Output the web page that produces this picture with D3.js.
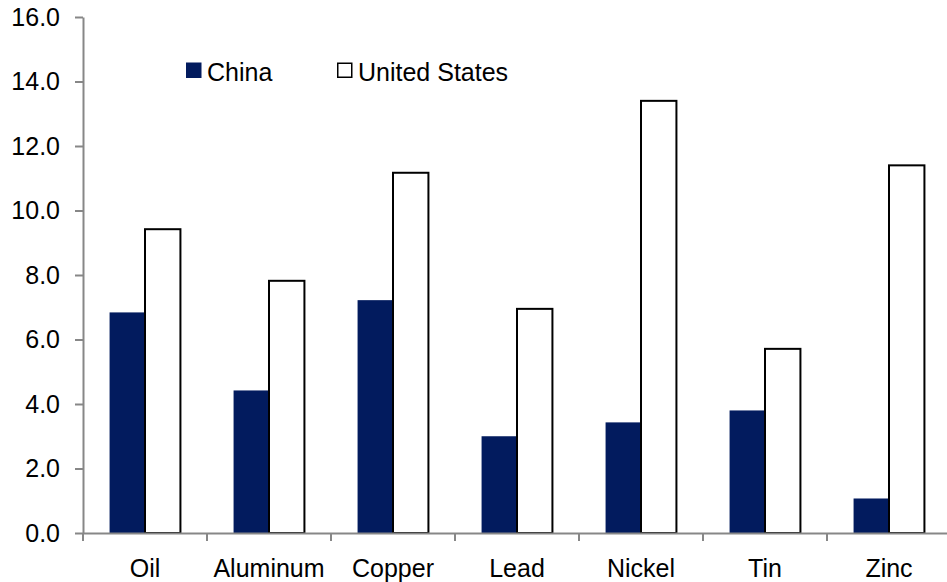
<!DOCTYPE html>
<html>
<head>
<meta charset="utf-8">
<script src="https://d3js.org/d3.v7.min.js"></script>
<style>
  html, body { margin: 0; padding: 0; background: #fff; }
  svg { display: block; }
  text { font-family: Arial, "Liberation Sans", sans-serif; fill: #000; }
</style>
</head>
<body>
<svg id="chart" width="947" height="582"></svg>
<script>
const categories = ["Oil", "Aluminum", "Copper", "Lead", "Nickel", "Tin", "Zinc"];
const seriesNames = ["China", "United States"];
const chinaValues = [6.84, 4.42, 7.22, 3.00, 3.43, 3.80, 1.07];
const usValues = [9.42, 7.82, 11.17, 6.95, 13.40, 5.71, 11.40];
const yTicks = [0, 2, 4, 6, 8, 10, 12, 14, 16];
const seriesColors = ["#021B5E", "#FFFFFF"];

(function () {
const svg = d3.select("#chart");
const axisColor = "#878787";
const fontSize = 25;

const plotLeft = 83, plotRight = 951, plotTop = 17, plotBottom = 533;

const x0 = d3.scaleBand().domain(categories).range([plotLeft, plotRight]).paddingInner(0).paddingOuter(0);
const x1 = d3.scaleBand().domain(seriesNames).range([0, x0.bandwidth()]).paddingInner(0).paddingOuter(0.75);
const y = d3.scaleLinear().domain([0, 16]).range([plotBottom, plotTop]);

const rows = categories.map((c, i) => ({ cat: c, vals: [chinaValues[i], usValues[i]] }));

// Bars
const groups = svg.append("g").selectAll("g").data(rows).join("g")
  .attr("transform", d => `translate(${x0(d.cat)},0)`);
groups.selectAll("rect").data(d => d.vals.map((v, j) => ({ v, s: seriesNames[j], j })))
  .join("rect")
  .attr("x", d => x1(d.s))
  .attr("y", d => y(d.v))
  .attr("width", x1.bandwidth())
  .attr("height", d => y(0) - y(d.v))
  .attr("fill", d => seriesColors[d.j])
  .attr("stroke", d => d.j === 1 ? "#000" : "none")
  .attr("stroke-width", d => d.j === 1 ? 2 : 0);

// Y axis
const yAxis = d3.axisLeft(y).tickValues(yTicks).tickFormat(d3.format(".1f")).tickSize(8).tickSizeOuter(0).tickPadding(15);
const gy = svg.append("g").attr("transform", `translate(${plotLeft},0)`).call(yAxis);
gy.select(".domain").attr("stroke", axisColor).attr("stroke-width", 2);
gy.selectAll(".tick line").attr("stroke", axisColor).attr("stroke-width", 2);
gy.selectAll(".tick text").attr("font-size", fontSize).attr("font-family", "Arial, 'Liberation Sans', sans-serif").attr("fill", "#000");

// X axis (labels centered in categories, ticks at boundaries)
const xAxis = d3.axisBottom(x0).tickSize(0).tickSizeOuter(0).tickPadding(0);
const gx = svg.append("g").attr("transform", `translate(0,${plotBottom})`).call(xAxis);
gx.select(".domain").attr("stroke", axisColor).attr("stroke-width", 2);
gx.selectAll(".tick text").attr("font-size", fontSize).attr("font-family", "Arial, 'Liberation Sans', sans-serif")
  .attr("fill", "#000").attr("y", 44).attr("dy", 0);
const boundaries = categories.map(c => x0(c)).concat([x0.range()[1]]);
gx.selectAll(".boundary").data(boundaries).join("line")
  .attr("class", "boundary")
  .attr("x1", d => d).attr("x2", d => d)
  .attr("y1", 0).attr("y2", 8)
  .attr("stroke", axisColor).attr("stroke-width", 2);

// Legend
const legendItems = [
  { name: seriesNames[0], x: 186, color: seriesColors[0] },
  { name: seriesNames[1], x: 337, color: seriesColors[1] }
];
const lg = svg.append("g");
legendItems.forEach((it, i) => {
  lg.append("rect")
    .attr("x", i === 0 ? it.x : it.x + 0.75).attr("y", i === 0 ? 62.5 : 63.25)
    .attr("width", i === 0 ? 15.5 : 14).attr("height", i === 0 ? 15.5 : 14)
    .attr("fill", it.color)
    .attr("stroke", i === 0 ? "none" : "#000").attr("stroke-width", 1.5);
  lg.append("text")
    .attr("x", it.x + 21).attr("y", 80.5)
    .attr("font-size", fontSize)
    .text(it.name);
});
})();
</script>
</body>
</html>
